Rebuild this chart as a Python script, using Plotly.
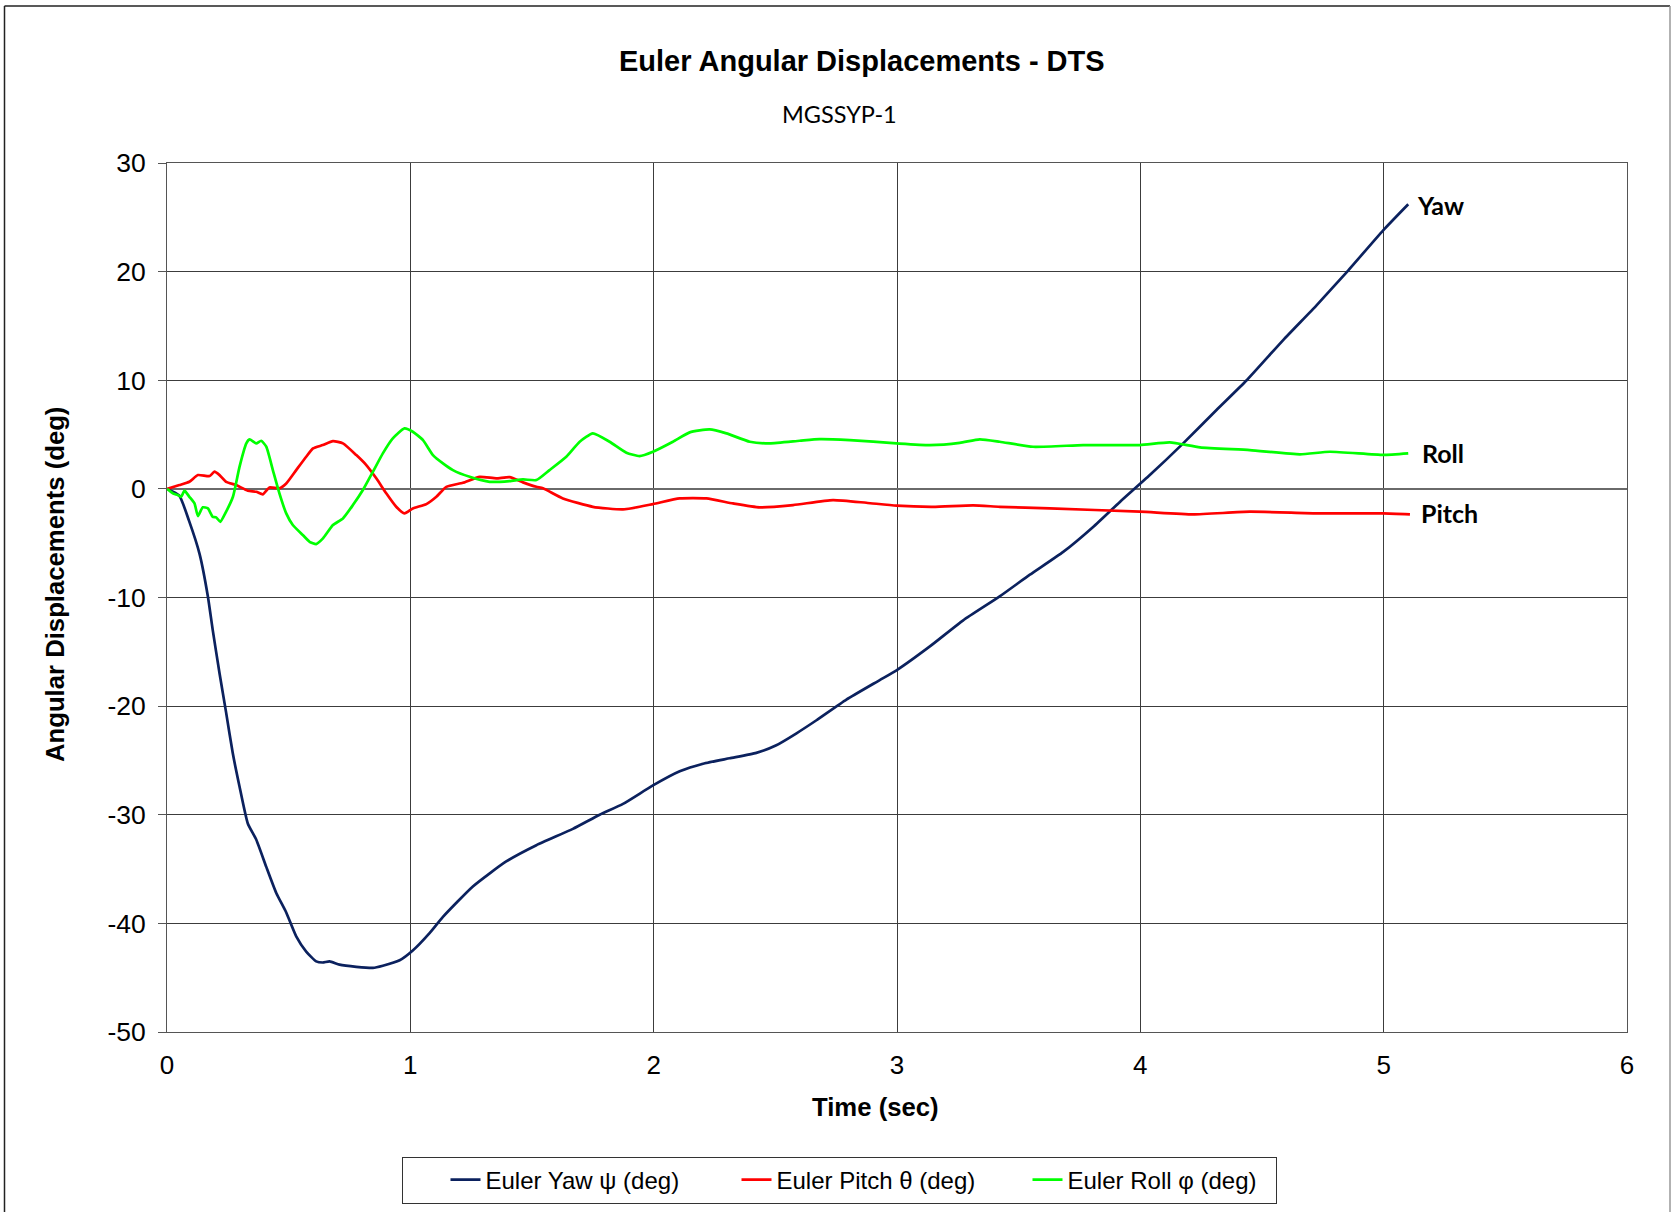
import plotly.graph_objects as go

# ---------------- data ----------------
yaw_t = [0, 0.05, 0.09, 0.134, 0.168, 0.188, 0.216, 0.243, 0.27, 0.298, 0.332, 0.367, 0.408, 0.449,
         0.49, 0.531, 0.572, 0.613, 0.64, 0.668, 0.709, 0.778, 0.846, 0.887, 0.956, 1.01, 1.079, 1.134,
         1.257, 1.394, 1.518, 1.668, 1.778, 1.874, 1.997, 2.107, 2.203, 2.312, 2.422, 2.504, 2.587,
         2.669, 2.792, 2.929, 2.998, 3.135, 3.272, 3.422, 3.546, 3.683, 3.806, 3.916, 4.039, 4.176,
         4.313, 4.437, 4.587, 4.724, 4.854, 4.998, 5.101]
yaw_v = [0, -0.6, -2.9, -6.0, -9.9, -13.0, -17.0, -20.6, -24.3, -27.4, -30.8, -32.3, -34.8, -37.2,
         -39.0, -41.2, -42.6, -43.5, -43.6, -43.5, -43.8, -44.0, -44.1, -43.9, -43.4, -42.5, -40.9, -39.4,
         -36.6, -34.3, -32.8, -31.3, -30.0, -29.0, -27.3, -26.0, -25.3, -24.8, -24.3, -23.6, -22.5,
         -21.3, -19.4, -17.6, -16.7, -14.5, -12.1, -9.9, -7.9, -5.8, -3.5, -1.2, 1.27, 4.19,
         7.26, 10.0, 13.7, 16.9, 20.1, 23.8, 26.2]

pitch_t = [0, 0.051, 0.092, 0.127, 0.175, 0.195, 0.216, 0.243, 0.284, 0.332, 0.367, 0.394, 0.421, 0.462,
           0.49, 0.531, 0.572, 0.6, 0.64, 0.682, 0.723, 0.778, 0.819, 0.86, 0.901, 0.942, 0.976, 1.01,
           1.066, 1.107, 1.148, 1.216, 1.285, 1.353, 1.408, 1.463, 1.518, 1.545, 1.627, 1.75, 1.874,
           1.997, 2.107, 2.217, 2.326, 2.436, 2.573, 2.737, 2.874, 2.998, 3.148, 3.313, 3.422, 3.628,
           3.998, 4.217, 4.45, 4.724, 4.998, 5.108]
pitch_v = [0, 0.35, 0.65, 1.27, 1.18, 1.58, 1.27, 0.65, 0.35, -0.17, -0.27, -0.5, 0.13, 0.05,
           0.5, 1.73, 2.96, 3.73, 4.03, 4.4, 4.19, 3.11, 2.19, 0.97, -0.41, -1.65, -2.26, -1.8,
           -1.4, -0.73, 0.19, 0.56, 1.11, 0.97, 1.08, 0.6, 0.19, 0.05, -0.88, -1.65, -1.89,
           -1.4, -0.88, -0.88, -1.34, -1.7, -1.49, -1.03, -1.28, -1.55, -1.65, -1.52, -1.65, -1.8,
           -2.1, -2.35, -2.1, -2.26, -2.26, -2.35]

roll_t = [0, 0.024, 0.044, 0.058, 0.072, 0.092, 0.113, 0.127, 0.147, 0.168, 0.188, 0.202, 0.219, 0.243,
          0.271, 0.298, 0.326, 0.339, 0.367, 0.387, 0.408, 0.435, 0.462, 0.49, 0.517, 0.558, 0.586,
          0.613, 0.641, 0.682, 0.723, 0.764, 0.805, 0.846, 0.887, 0.928, 0.976, 1.01, 1.052, 1.093,
          1.134, 1.175, 1.244, 1.326, 1.408, 1.463, 1.518, 1.572, 1.641, 1.696, 1.75, 1.819, 1.888,
          1.942, 1.997, 2.079, 2.148, 2.23, 2.299, 2.395, 2.477, 2.6, 2.682, 2.806, 2.998, 3.135,
          3.258, 3.34, 3.422, 3.559, 3.765, 3.998, 4.121, 4.245, 4.45, 4.656, 4.779, 4.998, 5.101]
roll_v = [0, -0.41, -0.57, -0.73, -0.17, -0.73, -1.34, -2.5, -1.7, -1.8, -2.57, -2.62, -3.03, -2.1,
          -0.73, 2.03, 4.19, 4.56, 4.19, 4.43, 3.88, 1.73, -0.41, -2.26, -3.33, -4.25, -4.87,
          -5.08, -4.56, -3.33, -2.72, -1.49, -0.11, 1.57, 3.27, 4.65, 5.57, 5.26, 4.49, 3.11,
          2.35, 1.73, 1.11, 0.65, 0.72, 0.87, 0.81, 1.73, 2.96, 4.34, 5.11, 4.34, 3.33,
          3.02, 3.42, 4.34, 5.2, 5.48, 5.11, 4.34, 4.19, 4.43, 4.58, 4.49, 4.19, 4.03,
          4.24, 4.56, 4.34, 3.88, 4.03, 4.03, 4.28, 3.82, 3.57, 3.18, 3.42, 3.13, 3.27]

series_names = ["Euler Yaw \u03c8 (deg)", "Euler Pitch \u03b8 (deg)", "Euler Roll \u03c6 (deg)"]
end_labels = ["Yaw", "Pitch", "Roll"]
x_ticks = [0, 1, 2, 3, 4, 5, 6]
y_ticks = [-50, -40, -30, -20, -10, 0, 10, 20, 30]

title_text = "Euler Angular Displacements - DTS"
subtitle_text = "MGSSYP-1"
x_title = "Time (sec)"
y_title = "Angular Displacements (deg)"

# ---------------- figure ----------------
W, H = 1673, 1212
ML, MR, MT, MB = 167, 46, 163, 180
PW, PH = W - ML - MR, H - MT - MB


def px(xp):
    return (xp - ML) / PW


def py(yp):
    return (H - MB - yp) / PH


colors = ["#0b215e", "#ff0000", "#00ff00"]

fig = go.Figure()
for t, v, name, c in [(yaw_t, yaw_v, series_names[0], colors[0]),
                      (pitch_t, pitch_v, series_names[1], colors[1]),
                      (roll_t, roll_v, series_names[2], colors[2])]:
    fig.add_trace(go.Scatter(x=t, y=v, mode="lines", name=name,
                             line=dict(color=c, width=2.7, shape="spline", smoothing=0.5)))

grid_c = "#3c3c3c"
fig.update_layout(
    width=W, height=H,
    margin=dict(l=ML, r=MR, t=MT, b=MB, autoexpand=False),
    paper_bgcolor="white", plot_bgcolor="white",
    font=dict(family="Liberation Sans, Arial, sans-serif", color="black"),
    showlegend=True,
    legend=dict(orientation="h", x=px(839), y=py(1180), xanchor="center", yanchor="middle",
                font=dict(size=24, family="Liberation Sans, Arial, sans-serif"),
                bordercolor="#333333", borderwidth=1, bgcolor="white",
                entrywidth=203, itemwidth=30, indentation=43, traceorder="normal"),
    xaxis=dict(range=[0, 6], tickvals=x_ticks, ticktext=[str(v) for v in x_ticks],
               showgrid=True, gridcolor=grid_c, gridwidth=1, zeroline=False,
               showline=True, linecolor="#555555", linewidth=1, mirror=True,
               ticks="", tickfont=dict(size=26), ticklabelstandoff=10),
    yaxis=dict(range=[-50, 30], tickvals=y_ticks, ticktext=[str(v) for v in y_ticks],
               showgrid=True, gridcolor=grid_c, gridwidth=1,
               zeroline=True, zerolinecolor="#6a6a6a", zerolinewidth=1.5,
               showline=True, linecolor="#555555", linewidth=1, mirror=True,
               ticks="outside", ticklen=8, tickcolor="#555555", tickfont=dict(size=26.5),
               ticklabelstandoff=7),
)

annos = [
    dict(text="<b>" + title_text + "</b>", x=px(862), y=py(61), font=dict(size=29)),
    dict(text=subtitle_text, x=px(839), y=py(114), font=dict(size=23.5, family="Lato, Open Sans, sans-serif")),
    dict(text="<b>" + x_title + "</b>", x=px(875), y=py(1107), font=dict(size=25.7)),
    dict(text="<b>" + y_title + "</b>", x=px(55), y=py(585), font=dict(size=25.7), textangle=-90),
]
for a in annos:
    a.update(xref="paper", yref="paper", showarrow=False, xanchor="center", yanchor="middle")
    fig.add_annotation(**a)

# end-of-line labels placed in data coordinates
label_pos = {"Yaw": (5.13, 26.13), "Pitch": (5.145, -2.2), "Roll": (5.15, 3.27)}
for lab in end_labels:
    lx, ly = label_pos[lab]
    fig.add_annotation(x=lx, y=ly, xref="x", yref="y", text="<b>" + lab + "</b>", showarrow=False,
                       xanchor="left", yanchor="middle",
                       font=dict(size=25, family="Lato, Open Sans, sans-serif", color="black"))

# outer chart border
bx0, bx1, by0, by1 = px(4.5), px(1670), py(1216), py(6)
fig.add_shape(type="line", xref="paper", yref="paper", x0=bx0, x1=bx0, y0=by0, y1=by1,
              line=dict(color="#222222", width=1.5))
fig.add_shape(type="line", xref="paper", yref="paper", x0=bx0, x1=bx1, y0=by1, y1=by1,
              line=dict(color="#222222", width=1.5))
fig.add_shape(type="line", xref="paper", yref="paper", x0=bx1, x1=bx1, y0=by0, y1=by1,
              line=dict(color="#999999", width=1.5))

fig.write_html("out.html", config={"displayModeBar": False},
               post_script="document.body.style.margin='0';document.body.style.overflow='hidden';")
